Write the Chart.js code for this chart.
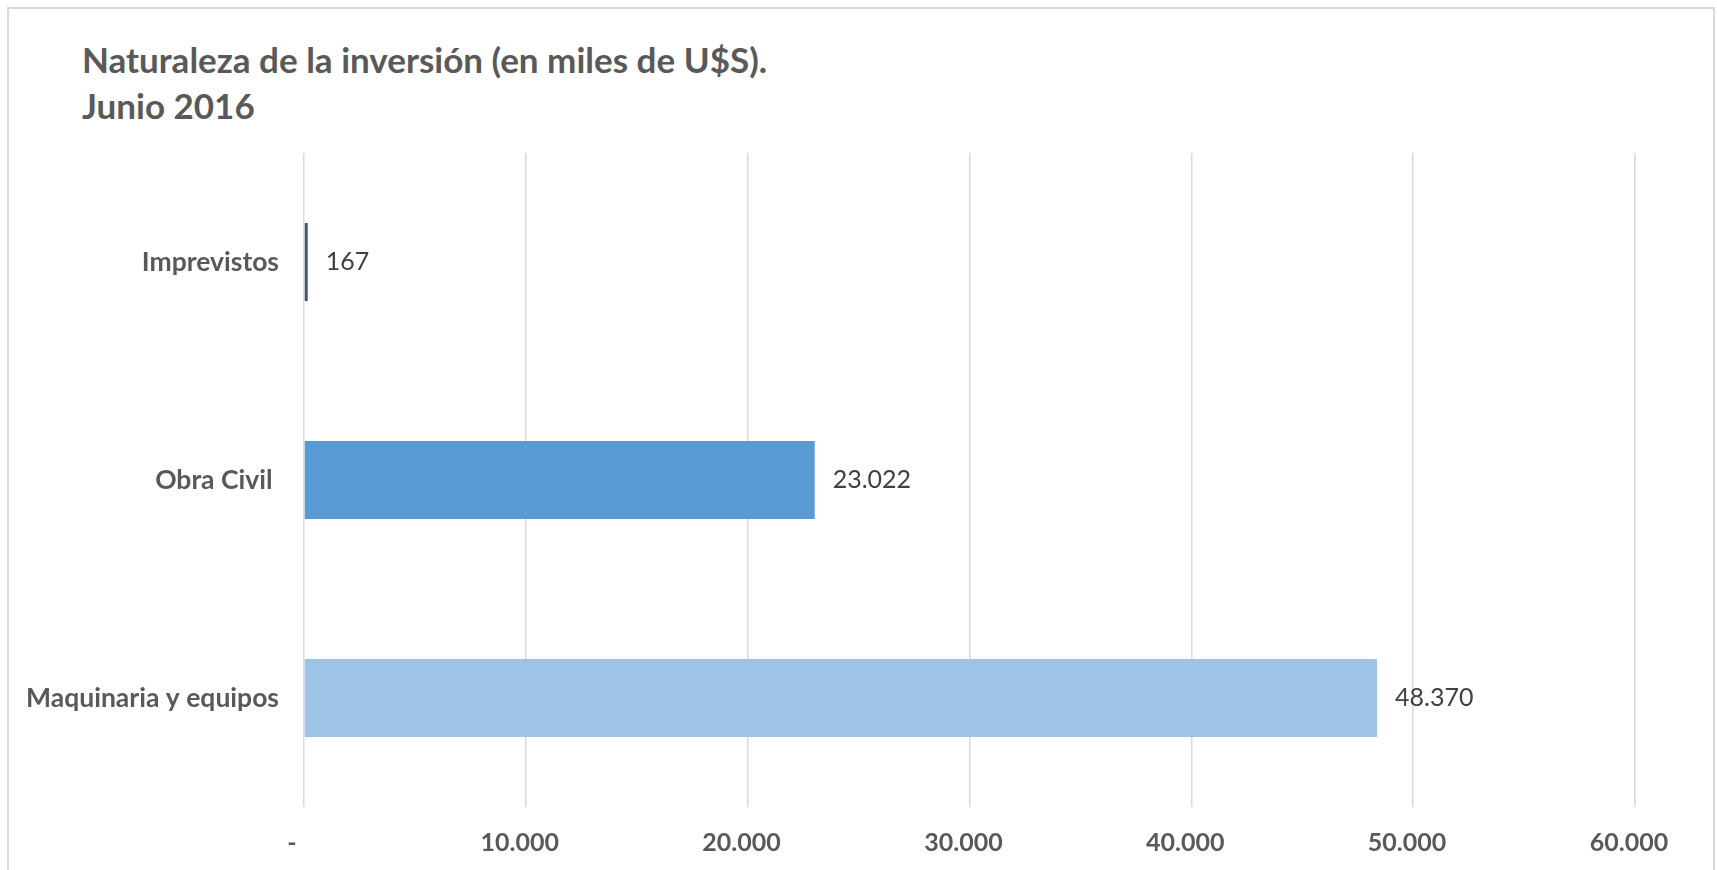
<!DOCTYPE html>
<html>
<head>
<meta charset="utf-8">
<script src="https://cdn.jsdelivr.net/npm/chart.js@4"></script>
<style>
  html, body { margin: 0; padding: 0; background: #fff; }
  #wrap { position: relative; width: 1717px; height: 870px; overflow: hidden; }
  #frame {
    position: absolute; left: 7px; top: 7px; width: 1708px; height: 900px;
    border: 2px solid #d9d9d9; border-bottom: none; box-sizing: border-box;
  }
  #title {
    position: absolute; left: 82px; top: 36px;
    font-family: Lato, sans-serif; font-weight: bold; font-size: 35px;
    line-height: 46px; color: #595959;
  }
  #chart { position: absolute; left: 0; top: 0; }
</style>
</head>
<body>
<div id="wrap">
  <div id="frame"></div>
  <div id="title">Naturaleza de la inversión (en miles de U$S).<br>Junio 2016</div>
  <canvas id="chart" width="1717" height="870"></canvas>
</div>
<script>
const categories = ['Imprevistos', 'Obra Civil ', 'Maquinaria y equipos'];
const valores = [167, 23022, 48370];
const colores = ['#44546A', '#5B9BD5', '#9DC3E6'];
const xTicks = [0, 10000, 20000, 30000, 40000, 50000, 60000];

function miles(v) {
  return String(Math.round(v)).replace(/\B(?=(\d{3})+(?!\d))/g, '.');
}

// value labels to the right of each bar
const etiquetas = {
  id: 'etiquetas',
  afterDatasetsDraw(chart) {
    const ctx = chart.ctx;
    const meta = chart.getDatasetMeta(0);
    ctx.save();
    ctx.font = '25px Lato';
    ctx.fillStyle = '#404040';
    ctx.textAlign = 'left';
    ctx.textBaseline = 'middle';
    meta.data.forEach((bar, i) => {
      ctx.fillText(miles(valores[i]), bar.x + 18, bar.y);
    });
    ctx.restore();
  }
};

Chart.defaults.font.family = 'Lato';
Chart.defaults.color = '#595959';

new Chart(document.getElementById('chart'), {
  type: 'bar',
  data: {
    labels: categories,
    datasets: [{
      data: valores,
      backgroundColor: colores,
      borderWidth: 0,
      categoryPercentage: 1,
      barPercentage: 0.358
    }]
  },
  options: {
    indexAxis: 'y',
    responsive: false,
    animation: false,
    layout: { padding: { top: 153, right: 82, left: 0, bottom: 0 } },
    plugins: {
      legend: { display: false },
      title: { display: false },
      tooltip: { enabled: false }
    },
    scales: {
      x: {
        min: 0,
        max: 60000,
        afterBuildTicks(scale) {
          scale.ticks = xTicks.map(v => ({ value: v }));
        },
        afterFit(scale) { scale.height = 63; },
        grid: { color: '#d9d9d9', lineWidth: 1.5, drawTicks: false },
        border: { display: false },
        ticks: {
          padding: 21,
          font: { size: 25, weight: 'bold' },
          color: '#595959',
          maxRotation: 0,
          callback: v => v === 0 ? '-    ' : miles(v) + '  '
        }
      },
      y: {
        afterFit(scale) { scale.width = 304; },
        grid: { display: false },
        border: { display: false },
        ticks: {
          padding: 17,
          font: { size: 26.5, weight: 'bold' },
          color: '#595959'
        }
      }
    }
  },
  plugins: [etiquetas]
});
</script>
</body>
</html>
